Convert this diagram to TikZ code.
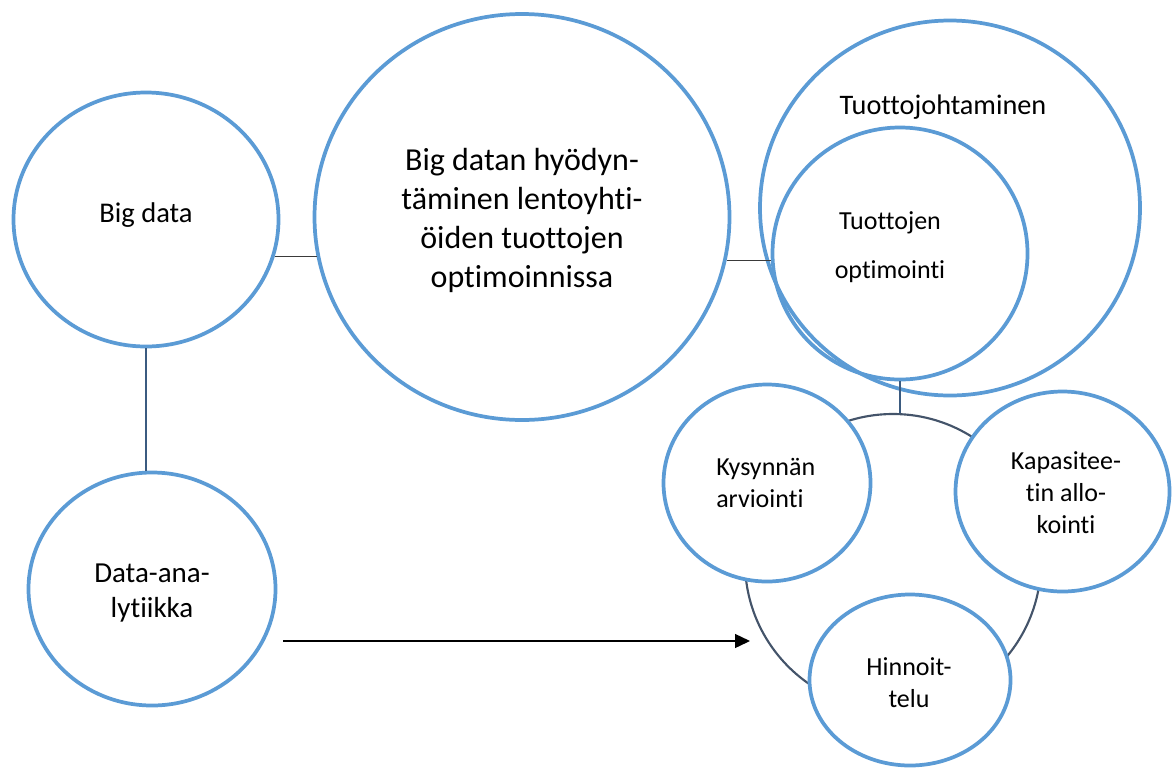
\documentclass[tikz,border=0pt]{standalone}
\usepackage{fontspec}
\setmainfont{Carlito}[Ligatures=NoCommon, RawFeature={-calt}]
\usetikzlibrary{shapes.geometric,arrows.meta}

\definecolor{bubbleblue}{HTML}{5B9BD5}
\definecolor{ringgray}{HTML}{44546A}
\definecolor{stemblue}{HTML}{3B5B80}
\definecolor{linkgray}{HTML}{3A3A3A}

\tikzset{
  bubble/.style={ellipse, draw=bubbleblue, line width=2.8pt, inner sep=0pt, fill=white},
  ring/.style={circle, draw=ringgray, line width=1.6pt, inner sep=0pt},
  link/.style={draw=linkgray, line width=0.9pt},
  stem/.style={draw=stemblue, line width=0.9pt},
  arrowline/.style={draw=black, line width=1pt, -{Triangle[length=11.25pt,width=10.5pt]}},
  % multi-line labels are anchored at the baseline of their last line
  bigtext/.style={font=\fontsize{24pt}{29.25pt}\selectfont, align=center, inner sep=0pt, anchor=base},
  midtext/.style={font=\fontsize{21.4pt}{26.25pt}\selectfont, align=center, inner sep=0pt, anchor=base},
  smalltext/.style={font=\fontsize{19.5pt}{24pt}\selectfont, align=center, inner sep=0pt, anchor=base},
}

\begin{document}
\begin{tikzpicture}[x=0.75pt, y=-0.75pt]
  \useasboundingbox (0,0) rectangle (1173,768);

  % left column
  \node[bubble, minimum width=198.75pt, minimum height=190.5pt] (bd) at (146,219.5) {};
  \node[bubble, minimum width=185.25pt, minimum height=174.75pt] (da) at (152,589) {};
  \node[midtext] (bdt) at (146,222) {Big data};
  \node[midtext, font=\fontsize{21.75pt}{26.25pt}\selectfont] (dat) at (152,617) {Data-ana-\\lytiikka};

  % central topic
  \node[bubble, minimum width=311.25pt, minimum height=304.5pt] (mid) at (522,217) {};
  \node[bigtext] (midt) at (522,287)
    {Big datan hyödyn-\\täminen lentoyhti-\\öiden tuottojen\\optimoinnissa};

  % revenue management and revenue optimisation
  \node[bubble, fill=none, minimum width=285pt, minimum height=281.25pt] (tj) at (950,208) {};
  \node[bubble, fill=none, minimum width=191.25pt, minimum height=189pt] (to) at (900,253.5) {};
  \node[midtext, font=\fontsize{21.2pt}{26pt}\selectfont] (tjt) at (943,114) {Tuottojohtaminen};
  \node[smalltext, font=\fontsize{19.5pt}{36.75pt}\selectfont] (tot) at (890,278) {Tuottojen\\optimointi};

  % the three sub-areas around a common ring
  \node[ring, minimum size=222pt] (dc) at (893,562) {};
  \node[bubble, minimum width=155.25pt, minimum height=147.75pt] (ky) at (767,483) {};
  \node[bubble, minimum width=160.5pt, minimum height=150pt] (ka) at (1062.5,491.5) {};
  \node[bubble, minimum width=150.75pt, minimum height=128.25pt] (hi) at (910,680) {};
  \node[smalltext, align=left, anchor=base west] (kyt) at (716,507) {Kysynnän\\arviointi};
  \node[smalltext] (kat) at (1066,533) {Kapasitee-\\tin allo-\\kointi};
  \node[smalltext] (hit) at (909,707) {Hinnoit-\\telu};

  % connectors (the two horizontal links keep the height of their left end)
  \draw[link] (bd.-16.5) -- (mid.-168.9 |- bd.-16.5);
  \draw[link] (mid.-12.25) -- (to.183.4 |- mid.-12.25);
  \draw[stem] (bd.south) -- (bd.south |- da.north);
  \draw[stem] (to.south) -- (to.south |- dc.north);
  \coordinate (arrS) at (283,641);
  \coordinate (arrE) at (750,641);
  \draw[arrowline] (arrS) -- (arrE);
\end{tikzpicture}
\end{document}
